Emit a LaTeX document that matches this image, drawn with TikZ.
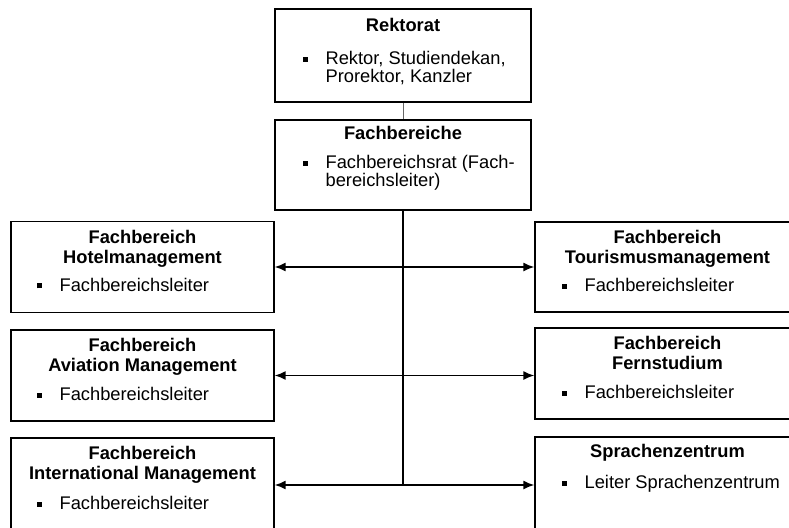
\documentclass[tikz,border=0pt]{standalone}
\usepackage{fontspec}
\setmainfont{Liberation Sans}
\usetikzlibrary{positioning,arrows.meta}

\tikzset{
  kasten/.style={draw, line width=1.2pt, inner sep=0pt},
  kopf/.style={font=\fontsize{18.3}{20}\selectfont\bfseries, align=center, anchor=north, inner sep=0pt},
  punkt/.style={font=\fontsize{18.3}{18}\selectfont, align=left, inner sep=0pt},
  pfeil/.style={line width=1.8pt, {Latex[length=11pt,width=9pt]}-{Latex[length=11pt,width=9pt]}},
  stamm/.style={line width=2.2pt}
}
\newcommand{\kaestchen}{\rule[3pt]{5pt}{5pt}\hspace{18pt}}

\begin{document}
\begin{tikzpicture}[x=1pt,y=-1pt]
  \useasboundingbox (0,0) rectangle (789,527);
  \clip (0,0) rectangle (789,527);
  % Leitung
  \node[kasten, minimum width=256pt, minimum height=93pt] (rektorat) at (403,55.5) {};
  \node[kopf, below=10pt of rektorat.north] (rektoratK) {Rektorat};
  \node[punkt, below right=43pt and 28pt of rektorat.north west] (rektoratP)
    {\kaestchen Rektor, Studiendekan,\\\hspace*{23pt}Prorektor, Kanzler};
  \node[kasten, minimum width=256pt, minimum height=90pt] (fachbereiche) at (403,165) {};
  \node[kopf, below=7pt of fachbereiche.north] (fachbereicheK) {Fachbereiche};
  \node[punkt, below right=36pt and 28pt of fachbereiche.north west] (fachbereicheP)
    {\kaestchen Fachbereichsrat (Fach-\\\hspace*{23pt}bereichsleiter)};
  % linke Seite
  \node[kasten, minimum width=263pt, minimum height=91pt] (hotel) at (142.5,267) {};
  \node[kopf, below=9pt of hotel.north] (hotelK) {Fachbereich\\Hotelmanagement};
  \node[punkt, below right=57pt and 26pt of hotel.north west] (hotelP) {\kaestchen Fachbereichsleiter};
  \node[kasten, minimum width=263pt, minimum height=91pt] (aviation) at (142.5,375.5) {};
  \node[kopf, below=9pt of aviation.north] (aviationK) {Fachbereich\\Aviation Management};
  \node[punkt, below right=58pt and 26pt of aviation.north west] (aviationP) {\kaestchen Fachbereichsleiter};
  \node[kasten, minimum width=263pt, minimum height=94pt] (intl) at (142.5,485) {};
  \node[kopf, below=9pt of intl.north] (intlK) {Fachbereich\\International Management};
  \node[punkt, below right=59pt and 26pt of intl.north west] (intlP) {\kaestchen Fachbereichsleiter};
  % rechte Seite
  \node[kasten, minimum width=265pt, minimum height=90pt] (tourismus) at (667.5,267) {};
  \node[kopf, below=9pt of tourismus.north] (tourismusK) {Fachbereich\\Tourismusmanagement};
  \node[punkt, below right=57pt and 27pt of tourismus.north west] (tourismusP) {\kaestchen Fachbereichsleiter};
  \node[kasten, minimum width=265pt, minimum height=91pt] (fern) at (667.5,373.5) {};
  \node[kopf, below=9pt of fern.north] (fernK) {Fachbereich\\Fernstudium};
  \node[punkt, below right=58pt and 27pt of fern.north west] (fernP) {\kaestchen Fachbereichsleiter};
  \node[kasten, minimum width=265pt, minimum height=96pt] (sprachen) at (667.5,485) {};
  \node[kopf, below=8pt of sprachen.north] (sprachenK) {Sprachenzentrum};
  \node[punkt, below right=39pt and 27pt of sprachen.north west] (sprachenP) {\kaestchen Leiter Sprachenzentrum};
  % Verbindungen
  \draw[line width=1pt, black!60] (rektorat.south) -- (fachbereiche.north);
  \draw[stamm] (fachbereiche.south) -- (fachbereiche.south |- intl.east);
  \draw[pfeil] (hotel.east) -- (hotel.east -| tourismus.west);
  \draw[pfeil] (aviation.east) -- (aviation.east -| fern.west);
  \draw[pfeil] (intl.east) -- (intl.east -| sprachen.west);
\end{tikzpicture}
\end{document}
